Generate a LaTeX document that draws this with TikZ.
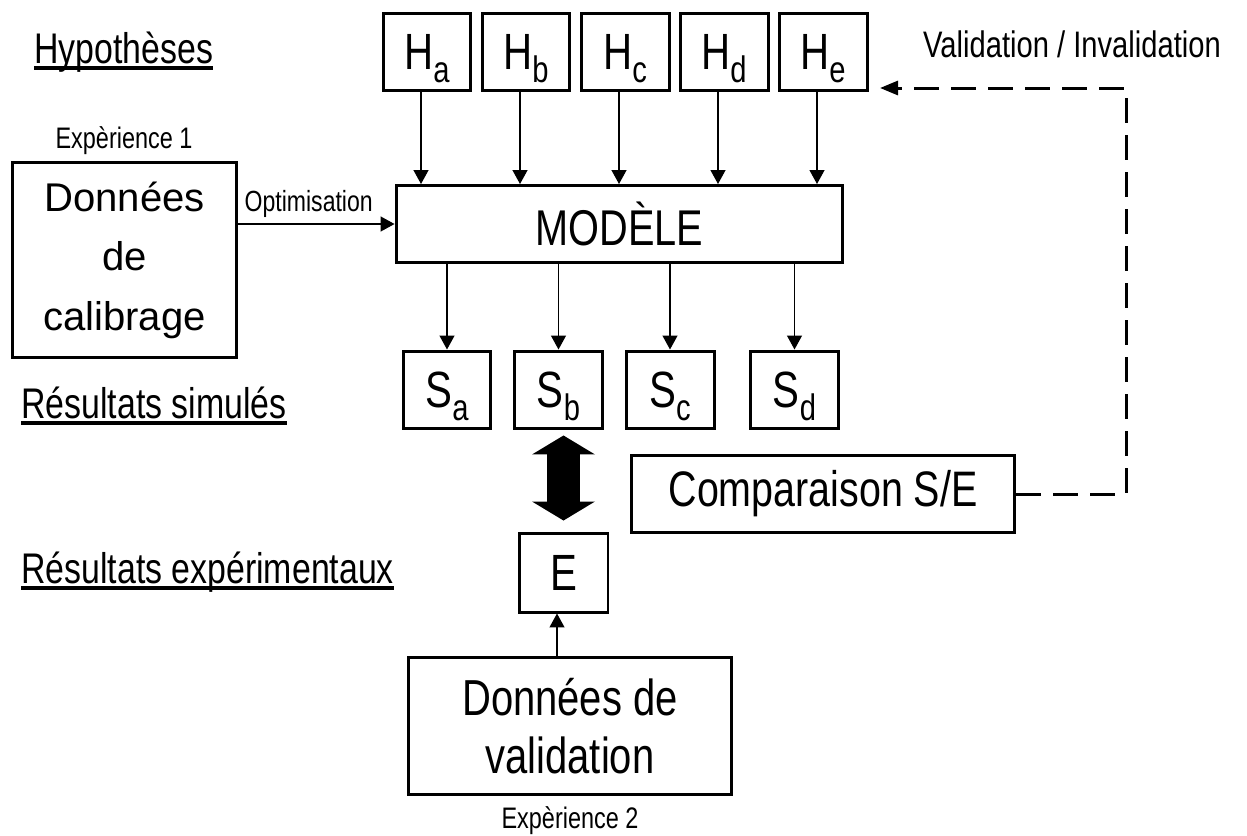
\documentclass[tikz,border=0pt]{standalone}
\usepackage{fontspec}
\setmainfont[FakeStretch=0.79]{Liberation Sans}
\newfontfamily\calibfont{Liberation Sans}
\usetikzlibrary{arrows.meta}

\newsavebox\soulbox
\newcommand{\souligne}[1]{\sbox\soulbox{#1}\rlap{\rule[-0.14cm]{\wd\soulbox}{0.08cm}}\usebox\soulbox}
\newcommand{\indice}[1]{\raisebox{-0.26cm}[0pt][0pt]{\fontsize{21}{21}\selectfont #1}}

\begin{document}
\begin{tikzpicture}[x=0.02cm, y=-0.02cm]
\useasboundingbox (0,0) rectangle (1247,835);

\begin{scope}[every node/.style={rectangle,draw,line width=0.06cm,inner sep=0pt,
              minimum width=1.76cm,minimum height=1.56cm,font=\fontsize{29}{29}\selectfont}]
    \node (Ha) at (427,52) {H\indice{a}};
    \node (Hb) at (526,52) {H\indice{b}};
    \node (Hc) at (625,52) {H\indice{c}};
    \node (Hd) at (724,52) {H\indice{d}};
    \node (He) at (823,52) {H\indice{e}};
    \node[minimum width=8.94cm,minimum height=1.54cm,font=\fontsize{28.6}{28.6}\selectfont] (mod) at (619.5,224) {MODÈLE};
    \node (Sa) at (447,390) {S\indice{a}};
    \node (Sb) at (558.5,390) {S\indice{b}};
    \node (Sc) at (670,390) {S\indice{c}};
    \node (Sd) at (794.5,390) {S\indice{d}};
    \node[minimum width=1.78cm,minimum height=1.58cm] (E) at (563.5,572.5) {E};
    \node[minimum width=4.5cm,minimum height=3.92cm,align=center,
          font=\calibfont\fontsize{22.8}{33.9}\selectfont] (calib) at (124.5,260) {Données\\de\\calibrage};
    \node[minimum width=6.48cm,minimum height=2.76cm,align=center,
          font=\fontsize{28.8}{33}\selectfont] (valid) at (570,726) {Données de\\validation};
    \node[minimum width=7.68cm,minimum height=1.54cm,font=\fontsize{28.4}{28.4}\selectfont] (comp) at (823,494) {Comparaison S/E};
\end{scope}

\begin{scope}[every node/.style={anchor=base,font=\fontsize{24.4}{24.4}\selectfont}]
    \node[anchor=base west] (hyp) at (28,63) {\souligne{Hypothèses}};
    \node[anchor=base west] (simul) at (15,418) {\souligne{Résultats simulés}};
    \node[anchor=base west] (exper) at (15,583) {\souligne{Résultats expérimentaux}};
    \node[font=\fontsize{16.9}{16.9}\selectfont] (exp1) at (124,148) {Expèrience 1};
    \node[font=\fontsize{16.9}{16.9}\selectfont] (exp2) at (570,828) {Expèrience 2};
    \node[font=\fontsize{21}{21}\selectfont] (valinv) at (1072,57) {Validation / Invalidation};
\end{scope}

\begin{scope}[>={Triangle[length=0.28cm,width=0.3cm]},
              every edge/.style={draw,line width=0.026cm}]
    \path [->] ([xshift=-0.12cm]Ha.south) edge ([xshift=-0.12cm]Ha.south |- mod.north);
    \path [->] ([xshift=-0.12cm]Hb.south) edge ([xshift=-0.12cm]Hb.south |- mod.north);
    \path [->] ([xshift=-0.12cm]Hc.south) edge ([xshift=-0.12cm]Hc.south |- mod.north);
    \path [->] ([xshift=-0.12cm]Hd.south) edge ([xshift=-0.12cm]Hd.south |- mod.north);
    \path [->] ([xshift=-0.12cm]He.south) edge ([xshift=-0.12cm]He.south |- mod.north);
    \path [->] (Sa.north |- mod.south) edge (Sa.north);
    \path [->] (Sb.north |- mod.south) edge (Sb.north);
    \path [->] (Sc.north |- mod.south) edge (Sc.north);
    \path [->] (Sd.north |- mod.south) edge (Sd.north);
    \path [->] (mod.west -| calib.east) edge node[above,pos=0.45,font=\fontsize{16.6}{16.6}\selectfont] {Optimisation} (mod.west);
    \path [->] ([xshift=-0.13cm]E.south |- valid.north) edge ([xshift=-0.13cm]E.south);
\end{scope}

\draw[line width=0.66cm,
      {Triangle[length=0.38cm,width=1.26cm,line width=0pt]}-{Triangle[length=0.38cm,width=1.26cm,line width=0pt]},
      shorten <=0.1cm,shorten >=0.22cm] (E.north |- Sb.south) -- (E.north);

\coordinate (coin) at (1126,88);
\coordinate (cible) at (880,88);
\draw[line width=0.06cm,dash pattern=on 0.5cm off 0.24cm,
      -{Triangle[length=0.36cm,width=0.28cm]}] (comp.east) -| (coin) -- (cible);
\end{tikzpicture}
\end{document}
